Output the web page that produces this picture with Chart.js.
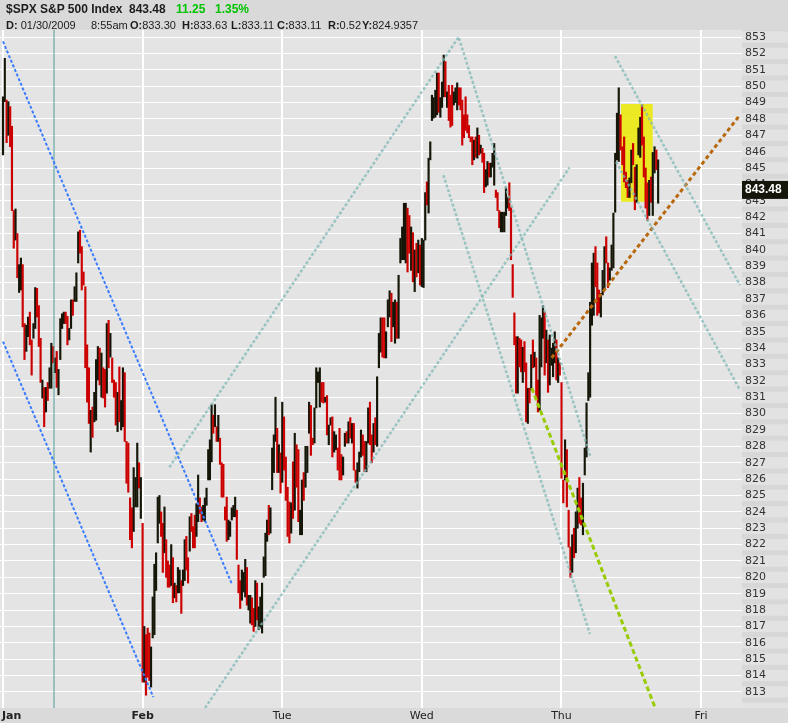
<!DOCTYPE html>
<html>
<head>
<meta charset="utf-8">
<script src="https://cdn.jsdelivr.net/npm/chart.js@4.4.1/dist/chart.umd.min.js"></script>
<style>
    body { margin: 0; background: #d9d9d9; overflow: hidden; }
    #wrap { position: relative; width: 788px; height: 723px; }
    #chart { position: absolute; left: 0; top: 0; }
    .hd { position: absolute; font-family: "Liberation Sans", Arial, sans-serif; line-height: 14px; color: #1c1c1c; white-space: pre; }
    .l1 { top: 2px; font-size: 12px; font-weight: bold; }
    .l2 { top: 18px; font-size: 11px; }
    .up { color: #00c400; }
</style>
</head>
<body>
<div id="wrap">
    <canvas id="chart" width="788" height="723"></canvas>
    <div class="hd l1" style="left:6px">$SPX S&amp;P 500 Index</div>
    <div class="hd l1" style="left:129px">843.48</div>
    <div class="hd l1 up" style="left:176px">11.25</div>
    <div class="hd l1 up" style="left:215px">1.35%</div>
    <div class="hd l2" style="left:6px"><b>D:</b> 01/30/2009</div>
    <div class="hd l2" style="left:91px">8:55am</div>
    <div class="hd l2" style="left:130px"><b>O:</b>833.30</div>
    <div class="hd l2" style="left:182px"><b>H:</b>833.63</div>
    <div class="hd l2" style="left:231px"><b>L:</b>833.11</div>
    <div class="hd l2" style="left:277px"><b>C:</b>833.11</div>
    <div class="hd l2" style="left:328px"><b>R:</b>0.52</div>
    <div class="hd l2" style="left:362px"><b>Y:</b>824.9357</div>
</div>
<script>
// 5-minute bars, one row per bar: [high, low, up?]
const janBars = [
    [849.35,845.8,1],[851.7,849.05,1],[849.15,846.55,0],[849.05,847.0,1],[848.75,846.3,0],[847.55,842.4,0],[842.4,840.1,0],[842.5,840.6,1],
    [841.0,838.3,0],[839.1,837.4,1],[839.5,837.55,1],[839.1,835.3,0],[835.5,833.3,0],[835.4,833.8,1],[835.9,834.7,1],[836.2,834.2,0],
    [834.5,832.35,0],[835.5,834.6,1],[837.7,835.2,1],[837.65,835.9,0],[836.6,834.1,0],[834.6,831.9,0],[832.05,830.95,1],[831.6,829.2,0],
    [831.6,830.1,1],[831.9,830.8,0],[832.8,831.55,1],[834.3,831.55,1],[834.1,833.1,0],[833.4,832.5,1],[833.8,831.6,0],[832.7,831.15,1],
    [835.8,833.3,1],[836.1,835.2,1],[836.2,835.5,1],[836.2,835.5,0],[835.95,834.2,0],[835.2,834.5,1],[836.95,835.2,1],[836.95,836.0,0],
    [837.75,836.85,1],[838.6,836.85,1],[841.1,839.2,1],[841.2,839.8,0],[840.2,837.55,0],[838.65,837.85,0],[837.75,832.8,0],[834.2,830.7,0],
    [832.8,829.4,0],[830.2,827.65,1],[830.4,828.55,0],[831.3,829.5,1],[833.3,829.6,1],[834.1,832.05,1],[834.0,831.75,0],[833.7,831.0,1],
    [832.8,830.95,0],[832.7,830.4,0],[835.5,831.25,1],[835.7,832.8,0],[834.9,833.45,1],[833.4,831.9,0],[832.05,831.0,0],[831.9,829.3,0],
    [831.3,828.9,1],[832.85,829.5,0],[830.8,829.0,1],[832.8,829.2,1],[832.5,828.3,0],[828.3,825.75,0],[828.2,825.2,0],[824.85,822.3,0],
    [824.25,821.8,0],[826.7,822.8,1],[826.1,824.3,1],[828.2,824.3,1],[827.0,825.45,0],[826.1,823.6,1]
];
const febBars = [
    [823.3,813.6,0],[817.0,813.6,1],[816.5,812.8,0],[816.9,813.9,0],[816.6,813.7,0],[815.75,813.3,1],[818.8,816.3,1],[820.8,816.5,1],
    [821.5,819.2,1],[824.9,822.1,1],[825.0,823.3,1],[824.0,822.5,0],[823.3,820.3,0],[824.3,821.5,1],[822.3,820.0,0],[821.0,819.4,0],
    [820.75,819.4,0],[822.0,819.5,1],[821.2,818.45,0],[819.65,818.75,1],[819.5,818.5,0],[820.6,819.05,1],[820.45,819.05,1],[819.8,817.8,0],
    [820.45,819.5,1],[822.3,819.8,1],[822.5,820.45,0],[821.2,819.65,0],[823.7,821.6,1],[823.9,822.8,0],[823.1,821.8,0],[823.8,821.8,0],
    [824.5,822.5,1],[826.25,823.4,1],[824.85,823.9,0],[824.3,823.4,0],[824.4,823.5,1],[824.85,823.4,1],[825.45,824.4,1],[827.8,825.95,1],
    [828.4,825.95,1],[830.55,827.05,1],[829.9,828.8,0],[830.55,829.2,1],[829.2,828.3,0],[829.9,828.3,1],[828.5,826.9,0],[827.0,824.9,0],
    [826.9,824.9,0],[824.3,823.5,0],[824.9,822.2,0],[823.5,822.3,1],[823.4,822.5,1],[824.25,823.5,1],[824.4,823.7,1],[824.9,823.7,1],
    [824.1,821.1,0],[820.75,819.05,0],[819.8,818.1,0],[820.45,818.6,1],[820.3,819.1,1],[821.1,818.8,1],[820.6,818.3,0],[818.9,818.0,1],
    [818.9,817.2,1],[818.75,817.1,0],[818.1,816.7,0],[819.8,817.0,1],[819.65,817.4,0],[818.2,816.8,1],[818.8,816.9,1],[819.65,816.6,1],
    [821.25,820.0,1],[822.7,820.1,1],[823.5,822.2,1],[824.4,822.6,0],[824.25,822.7,1],[827.9,825.35,1],[828.7,826.4,1],[831.0,828.3,1],
    [829.1,826.4,0],[828.1,826.4,1],[827.6,825.15,0]
];
const tueBars = [
    [830.7,825.8,1],[829.8,826.55,0],[827.35,824.7,0],[825.5,822.5,0],[824.6,822.1,0],[824.55,822.7,1],[827.05,823.6,0],[828.8,824.1,1],
    [828.1,825.5,0],[827.8,823.4,0],[824.1,822.6,1],[825.95,822.6,1],[826.4,824.7,0],[828.0,825.5,1],[828.0,826.4,1],[830.7,828.8,1],
    [830.5,827.45,0],[828.5,828.1,0],[830.35,828.2,1],[832.8,830.35,1],[832.55,831.9,1],[832.8,830.4,1],[831.9,830.7,0],[831.9,830.65,0],
    [831.0,830.7,1],[831.1,828.7,0],[829.3,828.1,1],[829.75,829.3,1],[829.8,827.35,0],[828.9,827.65,1],[828.7,827.8,1],[827.9,826.55,0],
    [829.1,825.95,0],[827.5,825.95,0],[827.35,826.25,1],[828.8,828.0,1],[828.9,828.2,0],[829.5,828.2,1],[829.75,828.5,0],[829.4,828.2,1],
    [829.4,826.55,0],[826.55,825.8,0],[827.0,825.45,1],[827.65,826.45,1],[829.0,827.35,1],[828.7,827.45,0],[828.3,826.45,0],[828.3,826.45,1],
    [830.35,828.2,1],[830.7,828.1,0],[828.7,827.0,0],[829.4,827.65,1],[829.75,828.1,0],[832.25,828.0,1],[834.9,832.8,1],[835.85,833.75,1],
    [835.85,833.45,0],[835.85,833.4,0],[835.0,833.4,1],[836.95,835.3,1],[837.5,835.9,1],[837.35,834.4,0],[836.8,835.3,1],[836.95,834.3,1],
    [836.8,834.6,0],[838.45,834.6,1],[840.7,839.2,1],[841.4,839.4,1],[842.85,839.4,1],[842.85,839.2,1],[842.55,838.65,0],[842.1,839.8,0],
    [841.4,838.75,1],[841.05,838.05,0],[840.0,837.45,1],[840.4,838.35,0],[840.6,838.6,1],[840.3,837.85,0]
];
const wedBars = [
    [840.7,837.75,1],[840.6,837.7,1],[843.5,840.6,1],[844.15,842.75,0],[845.6,842.25,1],[846.6,845.5,1],[849.45,847.9,1],[849.3,848.05,1],
    [849.75,848.1,1],[850.8,848.25,1],[850.8,848.4,0],[849.3,848.1,1],[850.25,848.7,1],[851.9,849.35,1],[851.5,849.35,0],[849.65,848.7,1],
    [850.05,847.9,0],[849.45,847.5,0],[850.05,847.6,0],[849.65,848.85,1],[849.9,849.0,1],[850.2,848.55,1],[849.9,848.85,0],[849.9,848.55,0],
    [849.15,846.4,0],[848.25,846.85,0],[849.35,847.3,0],[848.25,847.15,0],[847.6,846.85,0],[846.9,846.6,0],[846.9,845.2,0],[846.7,845.5,1],
    [846.9,845.65,0],[847.45,845.6,1],[847.0,845.8,0],[846.4,845.9,1],[846.2,845.35,0],[845.9,843.5,0],[844.9,843.85,1],[845.4,843.95,1],
    [845.3,844.45,0],[845.3,844.45,1],[845.9,845.05,1],[846.5,843.95,1],[843.65,843.2,0],[843.5,842.4,0],[842.4,841.35,0],[842.3,841.1,1],
    [842.3,841.1,1],[842.3,841.1,1],[843.8,842.1,1],[843.2,842.55,1],[844.1,842.4,0],[842.6,839.4,0],[839.1,837.1,0],[836.15,834.2,0],
    [834.7,831.25,0],[834.7,831.25,1],[834.6,832.85,0],[834.5,832.55,0],[834.05,831.9,1],[834.4,832.55,0],[833.1,829.5,0],[831.55,829.4,1],
    [831.55,830.65,0],[833.6,831.45,1],[834.5,832.8,0],[833.75,832.85,1],[833.4,831.0,0],[832.05,830.1,0],[836.0,830.2,1],[835.85,832.85,1],
    [836.6,834.6,1],[836.2,832.35,0],[835.1,833.1,1],[834.5,831.3,0],[834.8,831.75,1],[834.0,832.95,1],[834.3,832.25,1],[835.0,833.1,1],
    [834.5,832.05,0],[833.4,831.9,1],[833.1,832.35,0]
];
const thuBars = [
    [831.9,826.05,0],[825.95,824.55,0],[828.4,825.95,1],[827.8,824.3,0],[824.1,821.85,0],[821.85,820.0,0],[822.6,820.3,1],[823.0,821.2,0],
    [824.0,821.5,1],[825.45,823.0,1],[826.1,823.3,0],[824.85,823.2,0],[825.75,822.6,1],[827.9,826.25,1],[830.65,827.35,1],[832.5,830.8,1],
    [836.8,831.0,1],[839.2,835.4,1],[839.8,836.0,1],[840.2,837.75,0],[839.2,836.0,0],[837.55,836.15,0],[837.35,835.9,1],[838.75,837.25,1],
    [840.2,837.55,1],[840.8,839.2,0],[839.2,837.7,0],[838.9,838.15,1],[840.3,838.75,1],[842.25,838.9,1],[845.9,842.3,1],[848.35,845.5,1],
    [849.9,845.4,1],[848.25,846.1,0],[846.3,845.2,0],[846.9,844.15,0],[844.75,843.8,0],[844.25,843.2,0],[844.4,843.2,1],[846.1,844.1,1],
    [846.5,845.2,0],[845.05,842.45,0],[845.2,842.9,1],[847.45,845.8,1],[848.1,845.65,1],[848.85,846.4,0],[846.9,844.45,0],[845.0,842.55,0],
    [844.1,841.8,0],[844.25,842.1,1],[844.45,842.9,0],[845.95,842.1,1],[846.3,844.7,1],[846.1,844.9,0],[845.5,842.85,1]
];

const dayLabels = ['Jan', 'Feb', 'Tue', 'Wed', 'Thu', 'Fri'];
const barsPerDay = 78;
const lastPrice = 843.48;
const priceTicks = Array.from({ length: 41 }, (_, i) => 813 + i);

// drawn studies, in [bar slot, price]
const blueUpper = [[0, 852.73], [128.1, 819.53]];
const blueLower = [[0, 834.4], [84.0, 812.68]];
const tealUpRise = [[92.9, 826.72], [254.7, 853.02]];
const tealLowRise = [[112.85, 812.02], [316.5, 845.03]];
const tealUpFall = [[254.7, 852.94], [328.2, 827.35]];
const tealLowFall = [[246.0, 844.57], [327.9, 816.54]];
const tealThuUp = [[341.9, 851.84], [411.7, 837.85]];
const tealThuLow = [[342.5, 845.38], [411.7, 831.44]];
const brownLine = [[306.5, 833.4], [411.7, 848.24]];
const greenLine = [[295.4, 831.56], [364.8, 811.9]];
const markerSlot = 28.5;
const boxSlots = [345.25, 362.96];
const boxPrices = [842.94, 848.91];

const barPoints = [];
const barColors = [];
[janBars, febBars, tueBars, wedBars, thuBars].forEach((bars, d) => {
    const step = Math.min(1, barsPerDay / bars.length);
    bars.forEach(([hi, lo, up], j) => {
        barPoints.push({ x: d * barsPerDay + j * step, y: [lo, hi] });
        barColors.push(up ? '#161608' : '#cc0000');
    });
});

const toXY = pts => pts.map(([x, y]) => ({ x, y }));
const study = (pts, color, width, dash) => ({
    type: 'line',
    data: toXY(pts),
    borderColor: color,
    borderWidth: width,
    borderDash: dash,
    borderCapStyle: 'butt',
    pointRadius: 0,
    fill: false,
    order: 0
});
const TEAL = 'rgba(128,186,181,0.75)';

const panels = {
    id: 'panels',
    beforeDraw(chart) {
        const { ctx, chartArea: a, scales: { y } } = chart;
        ctx.save();
        ctx.fillStyle = '#e4e4e4';
        ctx.fillRect(a.left, a.top, a.right - a.left, a.bottom - a.top);
        ctx.beginPath();
        ctx.rect(a.right, a.top, chart.width - a.right, a.bottom - a.top);
        ctx.clip();
        ctx.fillStyle = '#e2e2e2';
        ctx.fillRect(a.right, a.top, chart.width - a.right, a.bottom - a.top);
        ctx.fillStyle = '#d7d7d7';
        [812, ...priceTicks].forEach(p => {
            const yy = y.getPixelForValue(p + 0.5);
            ctx.fillRect(a.right, yy - 2.5, chart.width - a.right, 5);
        });
        ctx.restore();
        ctx.save();
        ctx.fillStyle = '#dadada';
        ctx.fillRect(0, a.bottom, chart.width, chart.height - a.bottom);
        ctx.restore();
    },
    beforeDatasetsDraw(chart) {
        const { ctx, scales: { x, y } } = chart;
        const x0 = x.getPixelForValue(boxSlots[0]), x1 = x.getPixelForValue(boxSlots[1]);
        const y0 = y.getPixelForValue(boxPrices[1]), y1 = y.getPixelForValue(boxPrices[0]);
        ctx.save();
        ctx.fillStyle = 'rgba(236,233,8,0.88)';
        ctx.fillRect(x0, y0, x1 - x0, y1 - y0);
        ctx.restore();
    },
    afterDraw(chart) {
        const { ctx, chartArea: a, scales: { x, y } } = chart;
        ctx.save();
        ctx.textBaseline = 'middle';
        ctx.fillStyle = '#222';
        dayLabels.forEach((label, i) => {
            ctx.font = (i < 2 ? 'bold ' : '') + '11px "DejaVu Sans", sans-serif';
            const w = ctx.measureText(label).width;
            const cx = x.getPixelForValue(i * barsPerDay);
            ctx.fillText(label, Math.max(2, cx - w / 2), a.bottom + 8);
        });
        const py = y.getPixelForValue(lastPrice);
        ctx.fillStyle = '#15150a';
        ctx.fillRect(a.right, py - 12, chart.width - a.right, 18);
        ctx.fillStyle = '#ffffff';
        ctx.font = 'bold 12px "Liberation Sans", Arial, sans-serif';
        ctx.fillText(lastPrice.toFixed(2), a.right + 3, py - 3);
        ctx.restore();
    }
};

new Chart(document.getElementById('chart'), {
    type: 'bar',
    data: {
        datasets: [
            study(blueUpper, '#3b7dff', 2, [3, 2]),
            study(blueLower, '#3b7dff', 2, [3, 2]),
            study(tealUpRise, TEAL, 2.5, [3, 2]),
            study(tealLowRise, TEAL, 2.5, [3, 2]),
            study(tealUpFall, TEAL, 2.5, [3, 2]),
            study(tealLowFall, TEAL, 2.5, [3, 2]),
            study(tealThuUp, TEAL, 2.5, [3, 2]),
            study(tealThuLow, TEAL, 2.5, [3, 2]),
            study(brownLine, '#b8680c', 3, [4, 3]),
            study(greenLine, '#98cc00', 3, [5, 3]),
            study([[markerSlot, 812], [markerSlot, 854]], '#4f9e98', 1, []),
            {
                type: 'bar',
                data: barPoints,
                backgroundColor: barColors,
                borderWidth: 0,
                barThickness: 1.5,
                order: 1
            }
        ]
    },
    options: {
        responsive: false,
        animation: false,
        events: [],
        layout: { padding: { top: 30, left: 0, right: 0, bottom: 0 } },
        plugins: { legend: { display: false }, tooltip: { enabled: false } },
        scales: {
            x: {
                type: 'linear',
                min: -1.68,
                max: 412.85,
                offset: false,
                afterBuildTicks: s => { s.ticks = dayLabels.map((_, i) => ({ value: i * barsPerDay })); },
                afterFit: s => { s.height = 15; },
                ticks: { display: false },
                grid: { color: '#ffffff', lineWidth: 2, drawTicks: false, offset: false },
                border: { display: false }
            },
            y: {
                position: 'right',
                min: 812.02,
                max: 853.43,
                afterBuildTicks: s => { s.ticks = priceTicks.map(v => ({ value: v })); },
                afterFit: s => { s.width = 46; },
                ticks: {
                    padding: 3,
                    color: '#333',
                    font: { family: '"DejaVu Sans", sans-serif', size: 11 },
                    callback: v => String(v)
                },
                grid: { color: '#ffffff', lineWidth: 1, drawTicks: false },
                border: { display: false }
            }
        }
    },
    plugins: [panels]
});
</script>
</body>
</html>
